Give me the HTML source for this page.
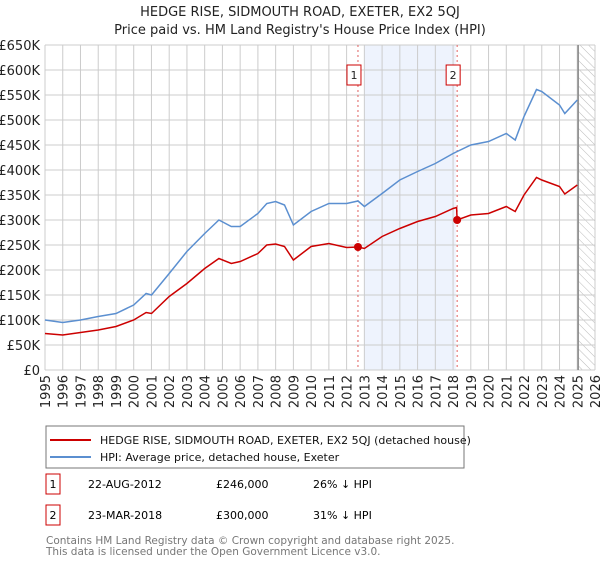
<!DOCTYPE html>
<html><head><meta charset="utf-8"><style>
body{margin:0;background:#fff;font-family:"Liberation Sans","DejaVu Sans",sans-serif;}
svg text{font-family:"DejaVu Sans","Liberation Sans",sans-serif;}
</style></head><body>
<svg id="c" width="600" height="560" xmlns="http://www.w3.org/2000/svg">
<defs><pattern id="hatch" width="6" height="6" patternUnits="userSpaceOnUse" patternTransform="rotate(-45)"><line x1="0" y1="0" x2="0" y2="6" stroke="#bbb" stroke-width="1"/></pattern></defs>
<text x="300" y="16" text-anchor="middle" font-size="13" fill="#222">HEDGE RISE, SIDMOUTH ROAD, EXETER, EX2 5QJ</text>
<text x="300" y="34" text-anchor="middle" font-size="13" fill="#222">Price paid vs. HM Land Registry's House Price Index (HPI)</text>
<g id="plot"></g>
<rect x="46" y="426" width="418" height="42" fill="#fff" stroke="#777"/>
<line x1="50" y1="440" x2="91" y2="440" stroke="#cc0000" stroke-width="2"/>
<text x="100" y="444" font-size="11" fill="#111">HEDGE RISE, SIDMOUTH ROAD, EXETER, EX2 5QJ (detached house)</text>
<line x1="50" y1="457" x2="91" y2="457" stroke="#5b8fd0" stroke-width="2"/>
<text x="100" y="461" font-size="11" fill="#111">HPI: Average price, detached house, Exeter</text>
<rect x="46" y="474" width="14" height="20" fill="#fff" stroke="#cc0000"/>
<text x="53" y="488" font-size="11" text-anchor="middle">1</text>
<text x="88" y="488" font-size="11">22-AUG-2012</text>
<text x="216" y="488" font-size="11">£246,000</text>
<text x="313" y="488" font-size="11">26% ↓ HPI</text>
<rect x="46" y="505" width="14" height="20" fill="#fff" stroke="#cc0000"/>
<text x="53" y="519" font-size="11" text-anchor="middle">2</text>
<text x="88" y="519" font-size="11">23-MAR-2018</text>
<text x="216" y="519" font-size="11">£300,000</text>
<text x="313" y="519" font-size="11">31% ↓ HPI</text>
<text x="46" y="544" font-size="10.5" fill="#777">Contains HM Land Registry data © Crown copyright and database right 2025.</text>
<text x="46" y="555" font-size="10.5" fill="#777">This data is licensed under the Open Government Licence v3.0.</text>
</svg>
<script>
const hpiYears=[1995,1996,1997,1998,1999,2000,2000.7,2001,2002,2003,2004,2004.8,2005.5,2006,2007,2007.5,2008,2008.5,2009,2010,2011,2012,2012.64,2013,2014,2015,2016,2017,2018,2019,2020,2021,2021.5,2022,2022.7,2023,2024,2024.3,2025];
const hpiValues=[100,95,100,107,113,130,153,150,193,237,273,300,287,287,313,333,337,330,290,317,333,333,338,327,353,380,397,413,433,450,457,473,460,507,561,557,530,513,540];
const propYears=[1995,1996,1997,1998,1999,2000,2000.7,2001,2002,2003,2004,2004.8,2005.5,2006,2007,2007.5,2008,2008.5,2009,2010,2011,2012,2012.64,2013,2014,2015,2016,2017,2018,2018.2,2018.23,2019,2020,2021,2021.5,2022,2022.7,2023,2024,2024.3,2025];
const propValues=[73,70,75,80,87,100,115,113,147,173,203,223,213,217,233,250,252,247,220,247,253,245,246,243,267,283,297,307,323,325,300,310,313,327,317,350,385,380,367,352,370];
const saleYears=[2012.64,2018.23];
const saleValues=[246,300];
const yTicks=[0,50,100,150,200,250,300,350,400,450,500,550,600,650];
const xTicks=[1995,1996,1997,1998,1999,2000,2001,2002,2003,2004,2005,2006,2007,2008,2009,2010,2011,2012,2013,2014,2015,2016,2017,2018,2019,2020,2021,2022,2023,2024,2025,2026];
const L=45,R=595,T=45,B=370;
const X=y=>L+(y-1995)/(2026-1995)*(R-L);
const Y=v=>B-v/650*(B-T);
const NS='http://www.w3.org/2000/svg';
const g=document.getElementById('plot');
function mk(t,a){const e=document.createElementNS(NS,t);for(const k in a)e.setAttribute(k,a[k]);g.appendChild(e);return e;}
let e;
e=mk('rect',{x:X(2013.0),y:T,width:X(2018.15)-X(2013.0),height:B-T,fill:'#eef3fd'});


e=mk('rect',{x:X(2025.05),y:T,width:R-X(2025.05),height:B-T,fill:'url(#hatch)'});


yTicks.forEach(v=>{
 e=mk('line',{x1:L,x2:R,y1:Y(v),y2:Y(v),stroke:'#ccc'});
 
 
 e=mk('text',{x:40,y:Y(v)+5,'text-anchor':'end','font-size':13,fill:'#222'});
 e.textContent=v===0?'£0':'£'+v+'K';
 
 
});
xTicks.forEach(y=>{
 e=mk('line',{x1:X(y),x2:X(y),y1:T,y2:B,stroke:'#ccc'});
 
 
 e=mk('text',{x:0,y:0,'text-anchor':'end','font-size':13,fill:'#222',transform:`translate(${X(y)+5},${B+5}) rotate(-90)`});
 e.textContent=y;
 
 
});
e=mk('line',{x1:X(2025.05),x2:X(2025.05),y1:T,y2:B,stroke:'#888','stroke-width':1.5});


saleYears.forEach((y,i)=>{
 e=mk('line',{x1:X(y),x2:X(y),y1:T,y2:B,stroke:'#e06060','stroke-dasharray':'2,3'});
 
 
 e=mk('rect',{x:X(y)-11,y:65,width:14,height:20,fill:'#fff',stroke:'#cc0000'});
 
 
 e=mk('text',{x:X(y)-4,y:79,'text-anchor':'middle','font-size':11,fill:'#222'});
 e.textContent=i+1;
 
 
});
const pts=(xs,vs)=>xs.map((x,i)=>X(x).toFixed(1)+','+Y(vs[i]).toFixed(1)).join(' ');
e=mk('polyline',{points:pts(hpiYears,hpiValues),fill:'none',stroke:'#5b8fd0','stroke-width':1.5});


e=mk('polyline',{points:pts(propYears,propValues),fill:'none',stroke:'#cc0000','stroke-width':1.5});


saleYears.forEach((y,i)=>{
 e=mk('circle',{cx:X(y),cy:Y(saleValues[i]),r:4,fill:'#cc0000'});
 
 
});
</script>
</body></html>
